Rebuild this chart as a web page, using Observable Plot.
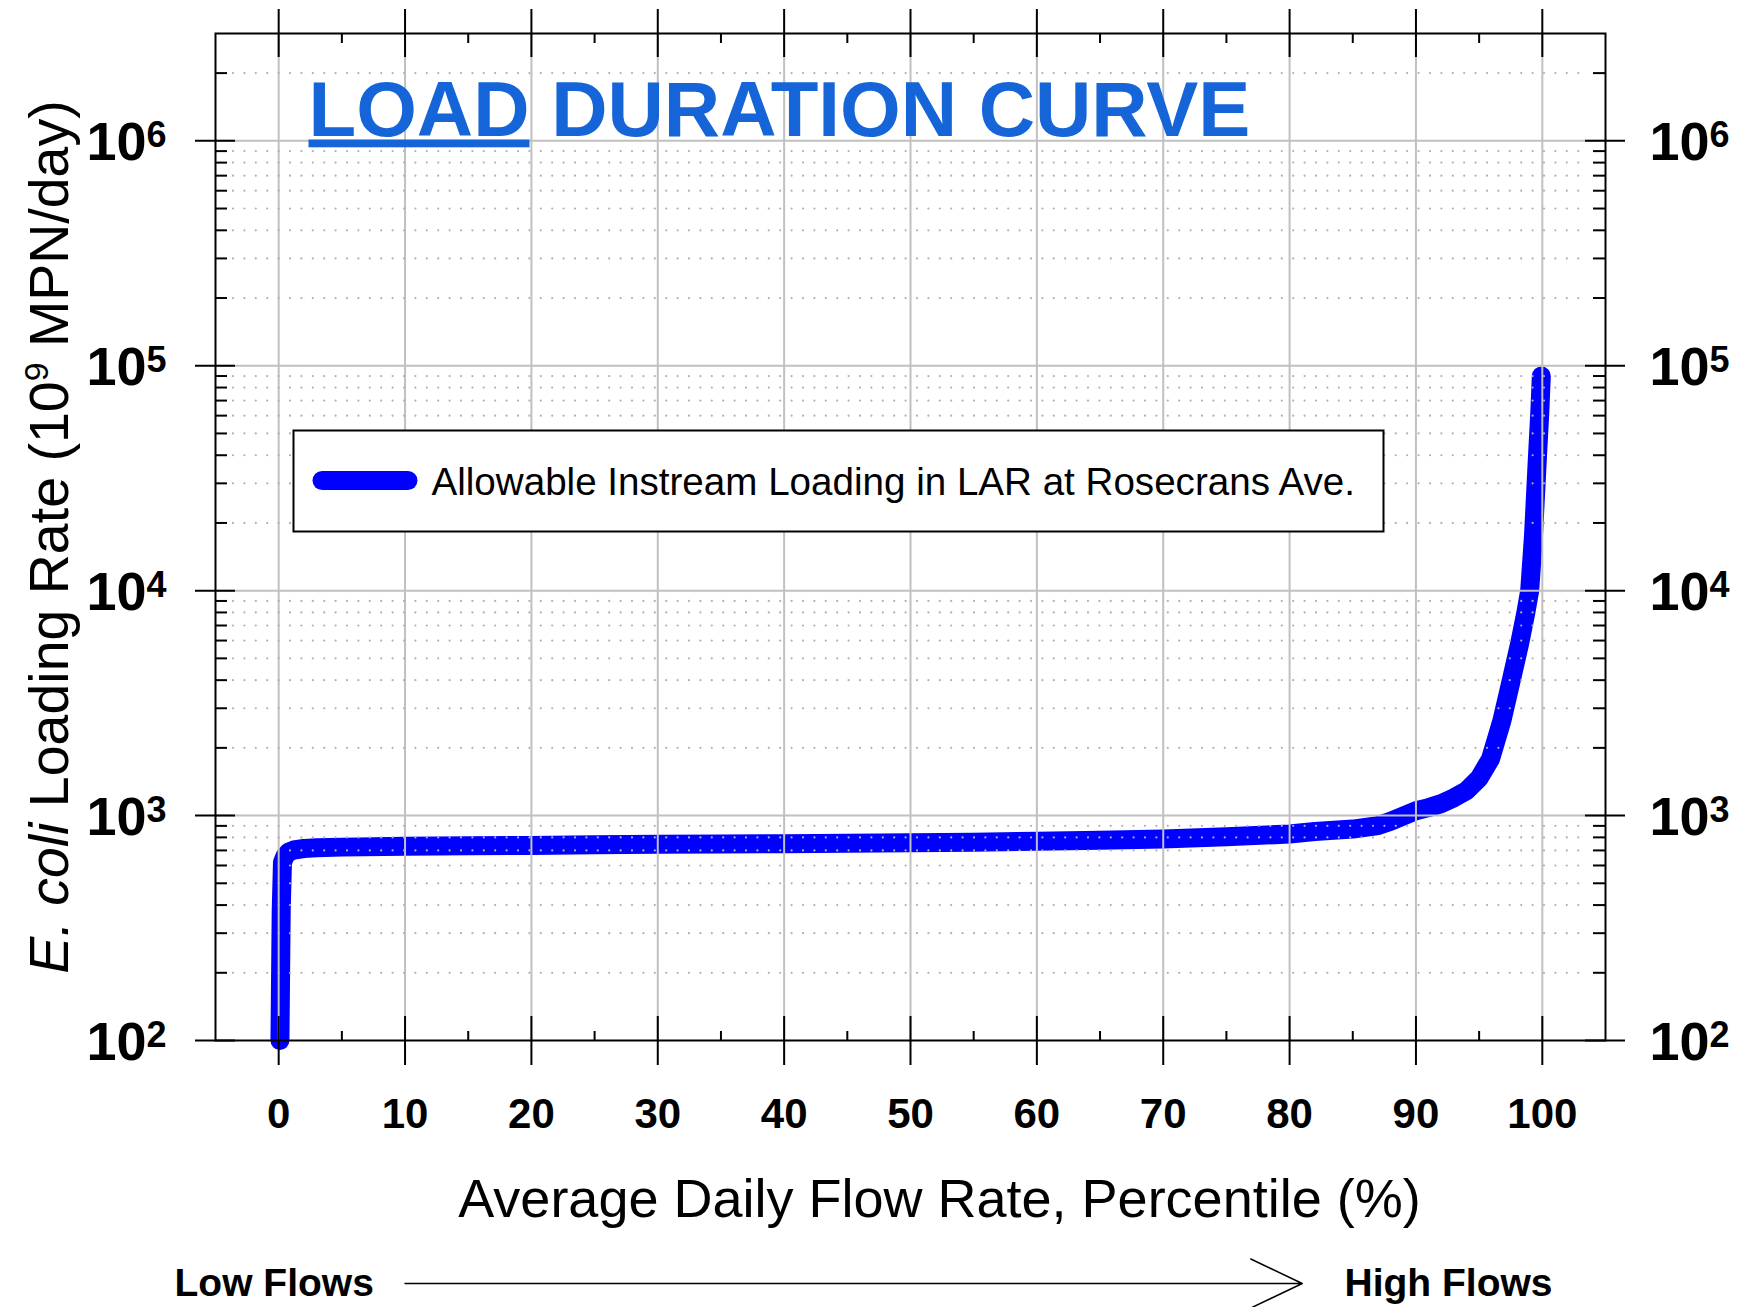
<!DOCTYPE html>
<html>
<head>
<meta charset="utf-8">
<script src="https://cdn.jsdelivr.net/npm/d3@7"></script>
<script src="https://cdn.jsdelivr.net/npm/@observablehq/plot@0.6"></script>
<style>
  html, body { margin: 0; padding: 0; background: #fff; }
  #chart svg { display: block; }
</style>
</head>
<body>
<div id="chart"></div>
<script>
// ---- data ----
const percentile = [0.1, 0.2, 0.3, 0.5, 0.8, 1.2, 2, 3, 5, 10, 15, 20, 25, 30, 35, 40, 45, 50, 55, 60,
  65, 70, 75, 80, 82, 85, 87, 88, 89, 90, 91, 92, 93, 94, 95, 95.9, 96.8, 97.5, 98.2, 98.7,
  99.0, 99.3, 99.6, 99.8, 99.92];
const loading = [100, 380, 620, 660, 688, 703, 714, 719, 724, 731, 734, 736, 741, 746, 748, 750, 754, 758, 762, 768,
  777, 787, 805, 828, 850, 871, 903, 944, 996, 1050, 1085, 1130, 1200, 1290, 1465, 1785, 2640, 3900, 5800, 8000,
  10000, 17500, 38000, 62000, 90000];

const xMajorTicks = [0, 10, 20, 30, 40, 50, 60, 70, 80, 90, 100];
const xMinorTicks = [5, 15, 25, 35, 45, 55, 65, 75, 85, 95];
const yMajorTicks = [1e2, 1e3, 1e4, 1e5, 1e6];
const yMajorExponents = ["2", "3", "4", "5", "6"];
const yMinorTicks = [200, 300, 400, 500, 600, 700, 800, 900,
  2000, 3000, 4000, 5000, 6000, 7000, 8000, 9000,
  20000, 30000, 40000, 50000, 60000, 70000, 80000, 90000,
  200000, 300000, 400000, 500000, 600000, 700000, 800000, 900000,
  2000000];

const titleWords = ["LOAD", "DURATION CURVE"];
const legendLabel = "Allowable Instream Loading in LAR at Rosecrans Ave.";
const xLabel = "Average Daily Flow Rate, Percentile (%)";
const yLabelParts = ["E. coli", " Loading Rate (10", "9", " MPN/day)"];
const flowLabels = ["Low Flows", "High Flows"];
const flowArrow = [10, 81];

// ---- build ----
const data = percentile.map((p, i) => ({p, v: loading[i]}));
const W = 1737, H = 1307;
const mL = 215, mR = 132, mT = 33, mB = 267;
const fw = W - mL - mR, fh = H - mT - mB;
const FONT = "'Liberation Sans', Arial, Helvetica, sans-serif";
const titleText = titleWords.join(" ");
const yLabelText = yLabelParts.join("");

const tickStyle = {stroke: "black", strokeWidth: 2};

const chart = Plot.plot({
  width: W, height: H,
  marginLeft: mL, marginRight: mR, marginTop: mT, marginBottom: mB,
  style: {fontFamily: FONT, background: "white", color: "black"},
  x: {domain: [-5, 105], axis: null},
  y: {type: "log", domain: [100, 3e6], axis: null},
  marks: [
    Plot.line(data, {x: "p", y: "v", stroke: "#0000ff", strokeWidth: 19, strokeLinecap: "round", strokeLinejoin: "round"}),
    // grid
    Plot.ruleX(xMajorTicks, {x: d => d, stroke: "#c0c0c0", strokeWidth: 2}),
    Plot.ruleY(yMajorTicks.slice(1), {y: d => d, stroke: "#c0c0c0", strokeWidth: 2}),
    Plot.ruleY(yMinorTicks, {y: d => d, stroke: "#b0b0b0", strokeWidth: 2.2, strokeDasharray: "0 11.4", strokeLinecap: "round", insetLeft: 18, insetRight: 18}),
    // x ticks (bottom & top)
    Plot.tickX(xMajorTicks, {x: d => d, ...tickStyle, insetTop: fh - 24, insetBottom: -25}),
    Plot.tickX(xMajorTicks, {x: d => d, ...tickStyle, insetTop: -24, insetBottom: fh - 24}),
    Plot.tickX(xMinorTicks, {x: d => d, ...tickStyle, insetTop: fh - 9, insetBottom: 0}),
    Plot.tickX(xMinorTicks, {x: d => d, ...tickStyle, insetTop: 0, insetBottom: fh - 10}),
    // y ticks (left & right)
    Plot.tickY(yMajorTicks, {y: d => d, ...tickStyle, insetLeft: -20, insetRight: fw - 20}),
    Plot.tickY(yMajorTicks, {y: d => d, ...tickStyle, insetLeft: fw - 20, insetRight: -20}),
    Plot.tickY(yMinorTicks, {y: d => d, ...tickStyle, insetLeft: 0, insetRight: fw - 12}),
    Plot.tickY(yMinorTicks, {y: d => d, ...tickStyle, insetLeft: fw - 12, insetRight: 0}),
    Plot.frame({stroke: "black", strokeWidth: 2}),
    // y tick labels
    Plot.text(yMajorTicks, {y: d => d, text: () => "10", frameAnchor: "left", dx: -69, dy: 19.5, lineAnchor: "bottom", textAnchor: "end", fontSize: 54, fontWeight: "bold"}),
    Plot.text(yMajorTicks, {y: d => d, text: (d, i) => yMajorExponents[i], frameAnchor: "left", dx: -69, dy: 6, lineAnchor: "bottom", textAnchor: "start", fontSize: 36, fontWeight: "bold"}),
    Plot.text(yMajorTicks, {y: d => d, text: () => "10", frameAnchor: "right", dx: 44, dy: 19.5, lineAnchor: "bottom", textAnchor: "start", fontSize: 54, fontWeight: "bold"}),
    Plot.text(yMajorTicks, {y: d => d, text: (d, i) => yMajorExponents[i], frameAnchor: "right", dx: 104, dy: 6, lineAnchor: "bottom", textAnchor: "start", fontSize: 36, fontWeight: "bold"}),
    // x tick labels
    Plot.text(xMajorTicks, {x: d => d, text: d => String(d), frameAnchor: "bottom", dy: 87, lineAnchor: "bottom", fontSize: 42, fontWeight: "bold"}),
    // legend
    Plot.frame({fill: "white", stroke: "black", strokeWidth: 2, insetLeft: 78, insetRight: 222, insetTop: 397, insetBottom: 509}),
    Plot.frame({fill: "#0000ff", stroke: "none", rx: 9.5, ry: 9.5, insetLeft: 97, insetRight: 1188, insetTop: 437.5, insetBottom: 550.5}),
    Plot.text([legendLabel], {text: d => d, frameAnchor: "top-left", dx: 216, dy: 461, lineAnchor: "bottom", textAnchor: "start", fontSize: 38.6}),
    // title
    Plot.text([titleText], {text: d => d, frameAnchor: "top-left", dx: 93, dy: 102, lineAnchor: "bottom", textAnchor: "start", fontSize: 78, fontWeight: "bold", fill: "#1565d8"}),
    // axis labels
    Plot.text([xLabel], {text: d => d, frameAnchor: "bottom", textAnchor: "middle", dx: 29, dy: 176, lineAnchor: "bottom", fontSize: 54}),
    Plot.text([yLabelText], {text: d => d, frameAnchor: "left", textAnchor: "middle", dx: -148, rotate: -90, lineAnchor: "bottom", fontSize: 55.5}),
    // low / high flows
    Plot.text([flowLabels[0]], {text: d => d, frameAnchor: "bottom-left", dx: -41, dy: 255, textAnchor: "start", lineAnchor: "bottom", fontSize: 39, fontWeight: "bold"}),
    Plot.text([flowLabels[1]], {text: d => d, frameAnchor: "bottom-left", dx: 1129, dy: 255, textAnchor: "start", lineAnchor: "bottom", fontSize: 39, fontWeight: "bold"}),
    Plot.arrow([flowArrow], {x1: d => d[0], x2: d => d[1], y1: () => yMajorTicks[0], y2: () => yMajorTicks[0], dy: 243, stroke: "black", strokeWidth: 1.5, headLength: 57, headAngle: 51})
  ]
});

// rich text: underline "LOAD", italic "E. coli", superscript 9
const svg = d3.select(chart);
svg.selectAll("text").filter(function () { return this.textContent === titleText; }).each(function () {
  const t = d3.select(this);
  t.text(null);
  t.append("tspan").style("text-decoration", "underline").style("text-decoration-thickness", "7px").text(titleWords[0]);
  t.append("tspan").text(" " + titleWords[1]);
});
svg.selectAll("text").filter(function () { return this.textContent === yLabelText; }).each(function () {
  const t = d3.select(this);
  t.text(null);
  t.append("tspan").attr("font-style", "italic").text(yLabelParts[0]);
  t.append("tspan").text(yLabelParts[1]);
  t.append("tspan").attr("font-size", 34).attr("dy", -20).text(yLabelParts[2]);
  t.append("tspan").attr("dy", 20).text(yLabelParts[3]);
});

document.getElementById("chart").appendChild(chart);
</script>
</body>
</html>
